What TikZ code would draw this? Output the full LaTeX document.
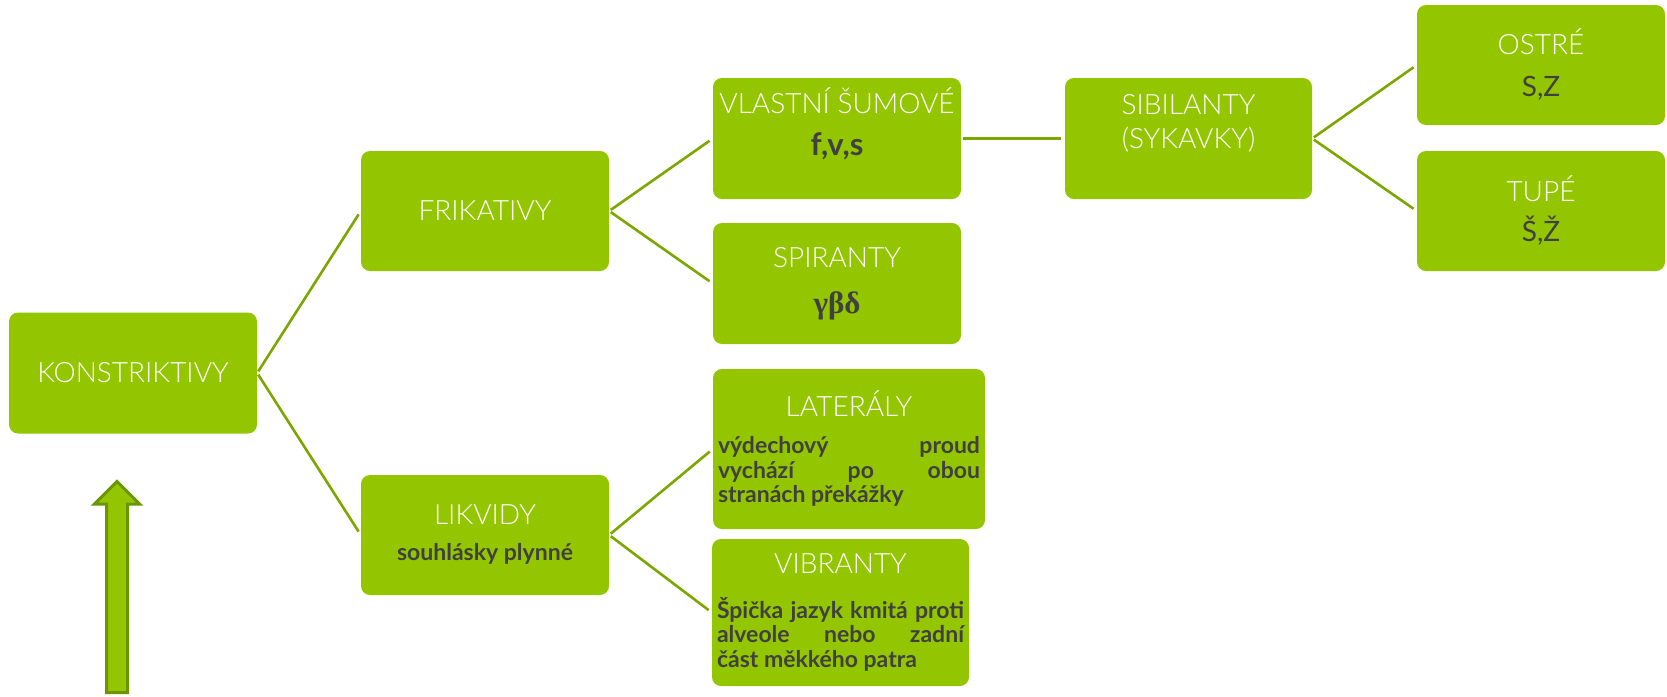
\documentclass[tikz,border=0pt]{standalone}
\usepackage{fontspec}
\setmainfont{Lato Light}
\newfontfamily\boldfont{Lato Bold}
\newfontfamily\greekfont{Liberation Serif}
\usepackage{tikz}
\definecolor{boxgreen}{RGB}{148,198,0}
\definecolor{linegreen}{RGB}{124,166,0}
\definecolor{arrowedge}{RGB}{107,150,0}
\definecolor{bodygray}{RGB}{64,64,64}
\newcommand{\bodyb}[1]{{\color{bodygray}\boldfont\fontsize{23}{25}\selectfont #1}}
\newcommand{\bodypar}[2]{\parbox[t]{#1}{\leavevmode\color{bodygray}\boldfont\fontsize{23}{24.5}\selectfont #2}}
\newcommand{\letters}[1]{{\color{bodygray}\fontspec{Lato}#1}}

\begin{document}
\begin{tikzpicture}[x=1pt,y=-1pt,
    box/.style={fill=boxgreen, rounded corners=9pt, minimum width=248pt, minimum height=121pt,
        text=white, align=center, font=\fontsize{28}{34}\selectfont, inner sep=5pt},
    link/.style={draw=linegreen, line width=2.6pt, shorten <=2pt, shorten >=4pt}]
        \useasboundingbox (0,0) rectangle (1667,696);
        % boxes
        \node[box] (konstr) at (133,373) {KONSTRIKTIVY};
        \node[box, minimum height=120pt] (frik) at (485,211) {FRIKATIVY};
        \node[box, minimum height=120pt] (likv) at (485,535) {LIKVIDY\\[2pt]\bodyb{souhlásky plynné}};
        \node[box] (vlast) at (837,138.5) {VLASTNÍ ŠUMOVÉ\\[8pt]{\boldfont\fontsize{31}{34}\selectfont\color{bodygray} f,v,s}\\ \mbox{}};
        \node[box] (spir) at (837,283.5) {SPIRANTY\\[12pt]{\greekfont\fontsize{31}{34}\selectfont\bfseries\color{bodygray} γβδ}};
        \node[box, minimum width=272pt, minimum height=160pt] (later) at (849,449)
            {LATERÁLY\\[3pt]\bodypar{262pt}{výdechový proud\linebreak vychází po obou\linebreak stranách překážky}};
        \node[box, minimum width=255pt, minimum height=147pt] (vibr) at (840.5,612.5)
            {VIBRANTY\\[11pt]\bodypar{247pt}{Špička jazyk kmitá proti\linebreak alveole nebo zadní\linebreak část měkkého patra}};
        \node[box, minimum width=247pt] (sibil) at (1188.5,138.5) {SIBILANTY\\(SYKAVKY)\\ \mbox{}};
        \node[box, minimum height=120pt] (ostre) at (1541,65) {OSTRÉ\\[8pt]\letters{S,Z}};
        \node[box, minimum height=120pt] (tupe) at (1541,211) {TUPÉ\\[6pt]\letters{Š,Ž}};
        % connectors
        \draw[link] (konstr.east) -- (frik.west);
        \draw[link] (konstr.east) -- (likv.west);
        \draw[link] (frik.east) -- (vlast.west);
        \draw[link] (frik.east) -- (spir.west);
        \draw[link] (likv.east) -- (later.west);
        \draw[link] (likv.east) -- (vibr.west);
        \draw[link] (vlast.east) -- (sibil.west);
        \draw[link] (sibil.east) -- (ostre.west);
        \draw[link] (sibil.east) -- (tupe.west);
        % arrow
        \draw[fill=boxgreen, draw=arrowedge, line width=3pt] (117,481.5) -- (139.5,504) -- (127.5,504)
            -- (127.5,692.5) -- (106.5,692.5) -- (106.5,504) -- (94.5,504) -- cycle;
\end{tikzpicture}
\end{document}
